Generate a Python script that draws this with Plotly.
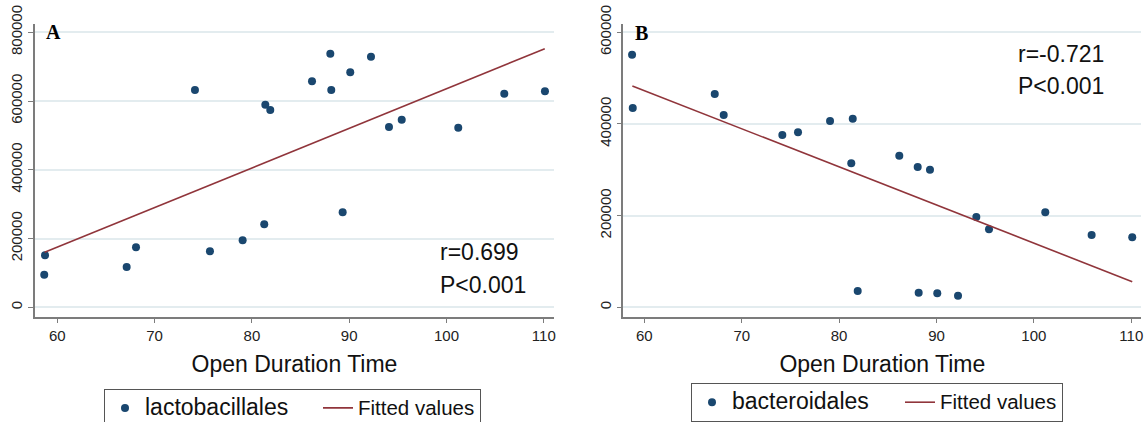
import plotly.graph_objects as go

# Panel A: lactobacillales vs open duration time
lacto_time = [58.74, 58.66, 67.13, 68.09, 74.15, 75.69, 79.05, 81.27, 81.38, 81.89,
              86.18, 88.06, 88.16, 89.33, 90.11, 92.24, 94.09, 95.40, 101.21, 105.94, 110.12]
lacto_value = [151300, 94800, 117200, 174500, 632100, 162900, 194900, 241400, 589400, 574000,
               657400, 737800, 632100, 276400, 683600, 729000, 524500, 545700, 522500, 621400, 628400]
lacto_fit_time = [58.70, 110.10]
lacto_fit_value = [160000, 752000]
lacto_stats = ["r=0.699", "P<0.001"]

# Panel B: bacteroidales vs open duration time
bact_time = [58.74, 58.81, 67.23, 68.15, 74.17, 75.78, 79.07, 81.40, 81.25, 81.91,
             86.18, 88.07, 89.33, 88.17, 90.08, 92.21, 94.09, 95.39, 101.17, 105.93, 110.10]
bact_value = [551200, 434900, 465400, 419600, 375900, 381800, 406500, 411500, 314200, 35600,
              330800, 306100, 300300, 31900, 30500, 25300, 197000, 170200, 207300, 157800, 152700]
bact_fit_time = [58.77, 110.10]
bact_fit_value = [482900, 55900]
bact_stats = ["r=-0.721", "P<0.001"]

x_ticks = [60, 70, 80, 90, 100, 110]
y_ticks_a = [0, 200000, 400000, 600000, 800000]
y_ticks_b = [0, 200000, 400000, 600000]

DOT = "#1a476f"
FIT = "#90353b"
SANS = "Liberation Sans, Arial, sans-serif"
SERIF = "Liberation Serif, Times New Roman, serif"
AXIS_GRAY = "#7c7c7c"
GRID = "#e3ecef"


def legend_label(text, size):
    return '<span style="font-size:%spx">%s</span>' % (size, text)


fig = go.Figure()

fig.add_trace(go.Scatter(x=lacto_time, y=lacto_value, mode="markers",
                         name=legend_label("lactobacillales", 23),
                         marker=dict(color=DOT, size=8), xaxis="x", yaxis="y",
                         legend="legend", legendwidth=168))
fig.add_trace(go.Scatter(x=lacto_fit_time, y=lacto_fit_value, mode="lines",
                         name=legend_label("Fitted values", 20.5),
                         line=dict(color=FIT, width=1.6), xaxis="x", yaxis="y", legend="legend"))
fig.add_trace(go.Scatter(x=bact_time, y=bact_value, mode="markers",
                         name=legend_label("bacteroidales", 23),
                         marker=dict(color=DOT, size=8), xaxis="x2", yaxis="y2",
                         legend="legend2", legendwidth=163))
fig.add_trace(go.Scatter(x=bact_fit_time, y=bact_fit_value, mode="lines",
                         name=legend_label("Fitted values", 20.5),
                         line=dict(color=FIT, width=1.6), xaxis="x2", yaxis="y2", legend="legend2"))

xaxis_common = dict(
    tickvals=x_ticks, ticks="outside", ticklen=5, tickwidth=1.2, tickcolor=AXIS_GRAY,
    showline=True, linecolor=AXIS_GRAY, linewidth=1.5, showgrid=False, zeroline=False,
    automargin=False,
    tickfont=dict(family=SANS, size=15, color="#222222"),
    title=dict(text="Open Duration Time", font=dict(family=SANS, size=23, color="#111111"), standoff=12),
)
yaxis_common = dict(
    ticks="outside", ticklen=5, tickwidth=1.2, tickcolor=AXIS_GRAY, tickangle=-90,
    showline=True, linecolor=AXIS_GRAY, linewidth=1.5, showgrid=True, gridcolor=GRID,
    gridwidth=1.5, zeroline=False, tickformat="d", automargin=False,
    tickfont=dict(family=SANS, size=15, color="#222222"),
)

legend_common = dict(orientation="h", xanchor="left", yanchor="top",
                     bordercolor="#555555", borderwidth=1, bgcolor="white",
                     font=dict(family=SANS, size=18, color="#111111"))

fig.update_layout(
    width=1148, height=422,
    margin=dict(l=0, r=0, t=0, b=0, autoexpand=False),
    paper_bgcolor="white", plot_bgcolor="white",
    xaxis=dict(domain=[35 / 1148, 554 / 1148], range=[57.71, 111.05], anchor="y", **xaxis_common),
    yaxis=dict(domain=[105.3 / 422, 398 / 422], range=[-27300, 824000], anchor="x",
               tickvals=y_ticks_a, **yaxis_common),
    xaxis2=dict(domain=[623.3 / 1148, 1141.3 / 1148], range=[57.84, 111.03], anchor="y2", **xaxis_common),
    yaxis2=dict(domain=[105.3 / 422, 398 / 422], range=[-20500, 618100], anchor="x2",
                tickvals=y_ticks_b, **yaxis_common),
    legend=dict(x=104 / 1148, y=(422 - 388.7) / 422, **legend_common),
    legend2=dict(x=691 / 1148, y=(422 - 383) / 422, **legend_common),
    showlegend=True,
)

# panel letters
for letter, px, py in [("A", 53, 32), ("B", 641.7, 33)]:
    fig.add_annotation(text="<b>%s</b>" % letter, x=px / 1148, y=1 - py / 422,
                       xref="paper", yref="paper", xanchor="center", yanchor="middle",
                       showarrow=False, font=dict(family=SERIF, size=20, color="black"))

# correlation statistics
for txt, yv in zip(lacto_stats, [160900, 64900]):
    fig.add_annotation(text=txt, x=99.13, y=yv, xref="x", yref="y", xanchor="left",
                       yanchor="middle", showarrow=False,
                       font=dict(family=SANS, size=23, color="#111111"))
for txt, yv in zip(bact_stats, [552700, 482900]):
    fig.add_annotation(text=txt, x=98.16, y=yv, xref="x2", yref="y2", xanchor="left",
                       yanchor="middle", showarrow=False,
                       font=dict(family=SANS, size=23, color="#111111"))

fig.write_html("out.html")
